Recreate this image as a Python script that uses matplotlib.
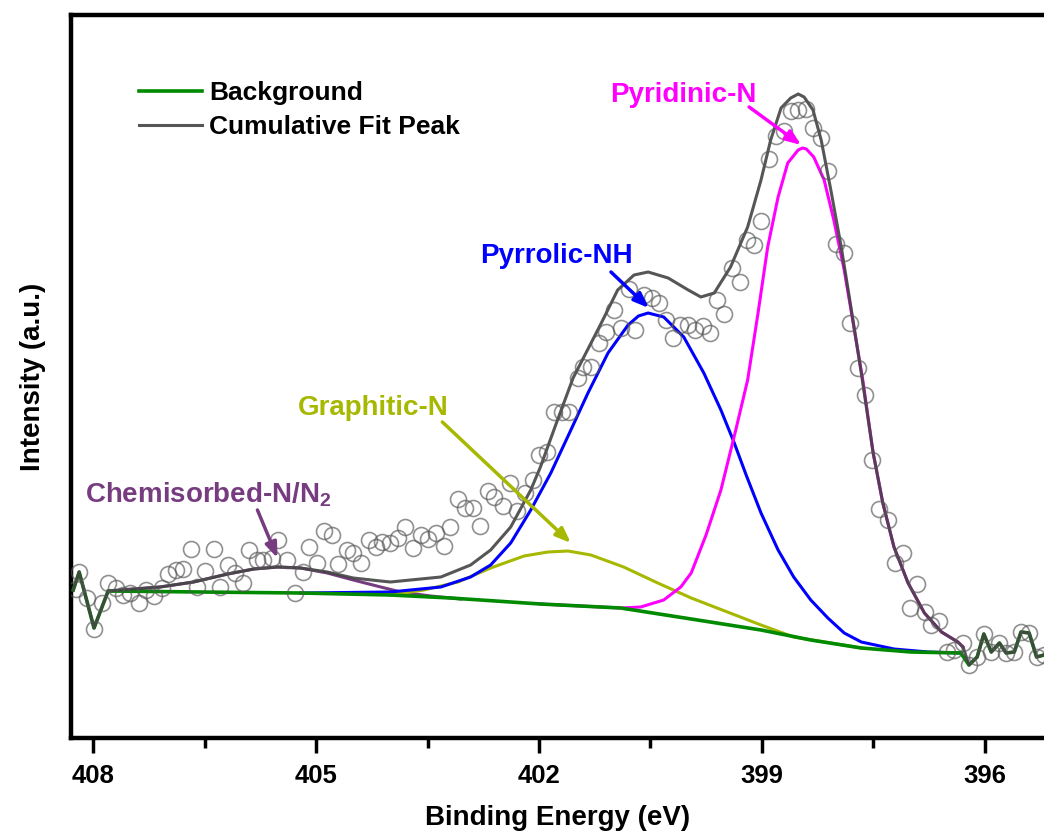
import matplotlib
matplotlib.use("Agg")
import matplotlib.pyplot as plt

plt.rcParams['font.family'] = ['Liberation Sans', 'DejaVu Sans']
plt.rcParams['font.weight'] = 'bold'
plt.rcParams['mathtext.fontset'] = 'custom'
plt.rcParams['mathtext.rm'] = 'Liberation Sans:bold'
plt.rcParams['mathtext.bf'] = 'Liberation Sans:bold'

# measured spectrum (open circles)
raw_ev = [408.23, 408.19, 408.09, 407.99, 407.88, 407.80, 407.69, 407.60, 407.50, 407.39,
          407.29, 407.18, 407.08, 406.99, 406.89, 406.79, 406.69, 406.60, 406.49, 406.38,
          406.29, 406.18, 406.09, 405.98, 405.90, 405.79, 405.71, 405.60, 405.51, 405.39,
          405.29, 405.18, 405.09, 404.99, 404.90, 404.79, 404.70, 404.59, 404.50, 404.39,
          404.29, 404.20, 404.11, 404.00, 403.90, 403.80, 403.69, 403.59, 403.50, 403.39,
          403.28, 403.20, 403.09, 403.00, 402.89, 402.80, 402.69, 402.60, 402.49, 402.39,
          402.29, 402.19, 402.08, 402.00, 401.89, 401.80, 401.69, 401.60, 401.48, 401.40,
          401.30, 401.19, 401.10, 400.99, 400.90, 400.79, 400.70, 400.59, 400.48, 400.39,
          400.29, 400.20, 400.10, 399.99, 399.90, 399.79, 399.70, 399.60, 399.51, 399.40,
          399.29, 399.20, 399.11, 399.01, 398.90, 398.81, 398.70, 398.61, 398.51, 398.40,
          398.31, 398.20, 398.11, 398.00, 397.89, 397.81, 397.70, 397.61, 397.51, 397.42,
          397.30, 397.20, 397.10, 397.00, 396.91, 396.80, 396.72, 396.61, 396.50, 396.41,
          396.29, 396.21, 396.10, 396.01, 395.91, 395.80, 395.71, 395.60, 395.51, 395.40,
          395.30, 395.20]
raw_int = [151, 168, 142, 111, 137, 157, 152, 145, 147, 137,
           150, 144, 152, 166, 170, 171, 191, 153, 169, 191,
           153, 175, 167, 157, 190, 180, 180, 182, 200, 180,
           147, 168, 193, 177, 209, 205, 176, 190, 187, 177,
           200, 193, 198, 197, 202, 213, 192, 205, 201, 207,
           194, 213, 241, 232, 232, 214, 249, 243, 234, 257,
           229, 247, 260, 285, 288, 328, 328, 328, 362, 373,
           373, 397, 408, 430, 412, 451, 410, 445, 442, 437,
           420, 402, 415, 415, 410, 414, 407, 440, 426, 472,
           458, 500, 495, 519, 581, 604, 609, 629, 630, 631,
           612, 602, 569, 496, 487, 417, 372, 345, 280, 231,
           220, 177, 187, 132, 156, 128, 115, 119, 88, 90,
           97, 75, 83, 106, 88, 97, 87, 88, 108, 107,
           83, 85]

# Shirley background
bg_ev = [408.27, 408.19, 407.99, 407.80, 406.56, 405.21, 404.00, 403.19, 401.98, 400.90,
         399.95, 399.01, 398.34, 397.66, 396.99, 396.32, 396.21, 396.10, 396.01, 395.91,
         395.80, 395.71, 395.60, 395.51, 395.40, 395.30, 395.20]
bg_int = [150, 168, 112, 149, 148, 147, 145, 142, 136, 132,
          121, 110, 100, 92, 88, 87, 75, 83, 106, 88,
          97, 87, 88, 108, 107, 83, 85]

# fitted components (component + background)
chem_ev = [407.80, 407.10, 406.65, 406.19, 405.84, 405.52, 405.21, 404.85, 404.50, 404.13,
           403.86, 403.46, 403.05]
chem_int = [149, 153, 158, 166, 171, 173, 172, 167, 160, 153,
            148, 144, 141]

grap_ev = [404.00, 403.55, 403.09, 402.65, 402.20, 401.88, 401.61, 401.30, 400.86, 400.40,
           399.95, 399.01, 398.57, 398.07, 397.66]
grap_int = [145, 150, 158, 172, 184, 188, 189, 185, 173, 157,
            142, 115, 103, 97, 92]

pyrr_ev = [405.21, 404.00, 403.32, 402.92, 402.65, 402.38, 402.11, 401.84, 401.57, 401.34,
           401.07, 400.80, 400.66, 400.53, 400.32, 400.05, 399.78, 399.55, 399.37, 399.21,
           399.01, 398.78, 398.57, 398.34, 398.11, 397.89, 397.66, 397.22, 396.76, 396.32]
pyrr_int = [147, 148, 153, 163, 175, 197, 230, 267, 310, 347,
            387, 415, 424, 427, 423, 403, 367, 330, 297, 265,
            227, 190, 163, 140, 122, 107, 98, 91, 88, 87]

pyri_ev = [401.98, 400.90, 400.63, 400.32, 400.09, 399.95, 399.75, 399.55, 399.35, 399.19,
           399.05, 398.92, 398.78, 398.65, 398.51, 398.45, 398.40, 398.30, 398.16, 398.03,
           397.89, 397.76, 397.64, 397.50, 397.37, 397.22, 397.03, 396.81, 396.58, 396.36,
           396.29]
pyri_int = [136, 132, 133, 140, 153, 167, 205, 250, 310, 360,
            427, 493, 543, 577, 590, 592, 591, 583, 560, 520,
            470, 413, 360, 287, 237, 193, 157, 127, 108, 98,
            93]

cum_ev = [408.27, 408.19, 407.99, 407.80, 407.10, 406.65, 406.19, 405.84, 405.52, 405.21,
          404.85, 404.50, 404.13, 404.00, 403.32, 402.92, 402.65, 402.38, 402.11, 401.98,
          401.75, 401.54, 401.16, 400.94, 400.72, 400.53, 400.26, 399.99, 399.82, 399.64,
          399.42, 399.19, 399.01, 398.88, 398.74, 398.61, 398.51, 398.43, 398.31, 398.20,
          398.07, 397.93, 397.80, 397.66, 397.50, 397.37, 397.22, 397.03, 396.81, 396.58,
          396.36, 396.29, 396.21, 396.10, 396.01, 395.91, 395.80, 395.71, 395.60, 395.51,
          395.40, 395.30, 395.20]
cum_int = [150, 168, 112, 149, 153, 158, 166, 171, 173, 172,
           168, 162, 159, 158, 163, 175, 190, 213, 250, 273,
           320, 362, 417, 450, 465, 468, 462, 450, 443, 447,
           473, 513, 560, 600, 632, 642, 646, 643, 630, 600,
           550, 493, 433, 367, 287, 237, 193, 157, 127, 108,
           98, 93, 75, 83, 106, 88, 97, 87, 88, 108,
           107, 83, 85]

x_ticks = [408, 405, 402, 399, 396]
x_minor = [406.5, 403.5, 400.5, 397.5]

GREEN = '#008a00'
PURPLE = '#773c80'
OLIVE = '#a6b800'
BLUE = '#0000ff'
MAGENTA = '#ff00ff'
GREY = '#444444'


def main():
    fig = plt.figure(figsize=(10.44, 8.39), dpi=100)
    ax = fig.add_axes([71 / 1044, 101 / 839, 1 - 71 / 1044, 723 / 839])

    ax.plot(raw_ev, raw_int, 'o', ms=11.5, mfc='none', mec='#555555', mew=1.2, alpha=0.65, zorder=5)

    ax.plot(chem_ev, chem_int, color=PURPLE, lw=2.2, zorder=2)
    ax.plot(grap_ev, grap_int, color=OLIVE, lw=2.2, zorder=2)
    ax.plot(pyrr_ev, pyrr_int, color=BLUE, lw=2.2, zorder=2)
    ax.plot(pyri_ev, pyri_int, color=MAGENTA, lw=2.2, zorder=2)
    ax.plot(bg_ev, bg_int, color=GREEN, lw=2.6, zorder=3, label='Background')
    ax.plot(cum_ev, cum_int, color=GREY, lw=2.2, zorder=4, alpha=0.9, label='Cumulative Fit Peak')

    # labels with arrows
    notes = [
        ('Pyridinic-N', MAGENTA, (400.05, 645), (399.17, 633), (398.47, 595)),
        ('Pyrrolic-NH', BLUE, (401.76, 484), (401.03, 468), (400.52, 432)),
        ('Graphitic-N', OLIVE, (404.23, 332), (403.30, 318), (401.57, 197)),
        (r'Chemisorbed-N/N$_2$', PURPLE, (406.45, 245), (405.79, 230), (405.52, 182)),
    ]
    for txt, col, pos, tail, tip in notes:
        ax.text(pos[0], pos[1], txt, color=col, fontsize=20, fontweight='bold',
                ha='center', va='center', zorder=6)
        ax.annotate('', xy=tip, xytext=tail,
                    arrowprops=dict(arrowstyle='-|>,head_length=0.9,head_width=0.35',
                                    color=col, lw=2.5, shrinkA=0, shrinkB=0),
                    zorder=6)

    ax.set_xlim(408.3, 395.2)
    ax.set_ylim(2, 725)
    ax.set_xticks(x_ticks)
    ax.set_xticks(x_minor, minor=True)
    ax.set_yticks([])
    ax.tick_params(axis='x', which='major', length=11, width=2.5, direction='out',
                   labelsize=18.5, pad=8)
    ax.tick_params(axis='x', which='minor', length=7, width=2.5, direction='out')
    for lab in ax.get_xticklabels():
        lab.set_fontweight('bold')

    for side in ['left', 'top', 'bottom']:
        ax.spines[side].set_linewidth(3.2)
    ax.spines['right'].set_visible(False)

    ax.set_xlabel('Binding Energy (eV)', fontsize=20, fontweight='bold', labelpad=12)
    ax.set_ylabel('Intensity (a.u.)', fontsize=20, fontweight='bold', labelpad=18)

    leg = ax.legend(loc='upper left', bbox_to_anchor=(139 / 1044, (839 - 81) / 839),
                    bbox_transform=fig.transFigure, frameon=False,
                    fontsize=19, handlelength=2.4, handletextpad=0.25, labelspacing=0.37,
                    borderaxespad=0, borderpad=0)
    for t in leg.get_texts():
        t.set_fontweight('bold')

    fig.savefig('out.png', dpi=100)


if __name__ == "__main__":
    main()
